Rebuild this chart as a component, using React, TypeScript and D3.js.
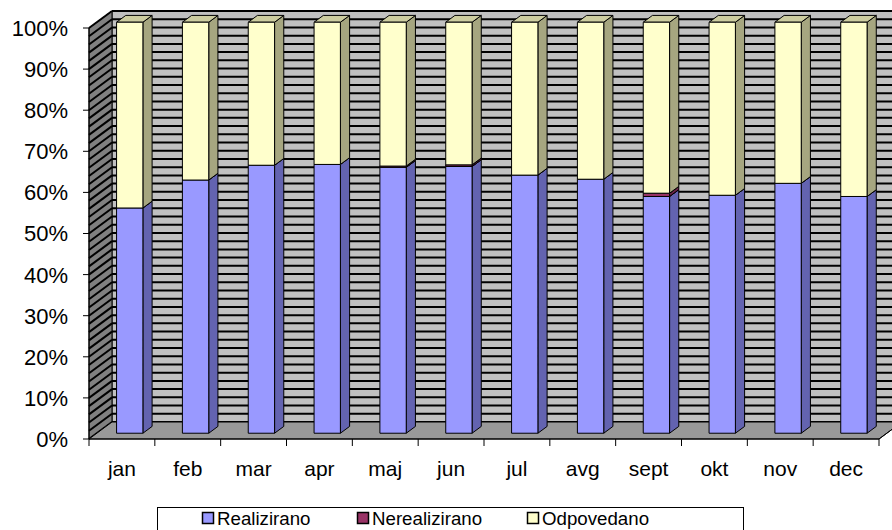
import React from 'react';
import * as d3 from 'd3';

const months = ['jan', 'feb', 'mar', 'apr', 'maj', 'jun', 'jul', 'avg', 'sept', 'okt', 'nov', 'dec'];
const realizirano = [54.8, 61.6, 65.2, 65.4, 64.7, 64.9, 62.8, 61.8, 57.6, 57.9, 60.8, 57.6];
const nerealizirano = [0, 0, 0, 0, 0.3, 0.4, 0, 0, 0.8, 0, 0, 0];
const odpovedano = [45.2, 38.4, 34.8, 34.6, 35.0, 34.7, 37.2, 38.2, 41.6, 42.1, 39.2, 42.4];
const seriesNames = ['Realizirano', 'Nerealizirano', 'Odpovedano'];
const yTicks = [0, 10, 20, 30, 40, 50, 60, 70, 80, 90, 100];

const colors = [
  { front: '#9999FF', side: '#6363B0', top: '#8080D6' },
  { front: '#993366', side: '#6B2447', top: '#7F2A55' },
  { front: '#FFFFCC', side: '#A6A680', top: '#CDCDA0' },
];

const W = 892, H = 530;
const X0 = 89, X1 = 879, YB = 439, YT = 28;
const DX = 23, DY = -17;
const F1 = 0.34, F2 = 0.74;
const FONT = 'Liberation Sans, Arial, sans-serif';

export default function App() {
  const table = months.map((m, i) => ({ m, Realizirano: realizirano[i], Nerealizirano: nerealizirano[i], Odpovedano: odpovedano[i] }));
  const stack = d3.stack<any>().keys(seriesNames).offset(d3.stackOffsetExpand);
  const stacked = stack(table);

  const x = d3.scaleBand<string>().domain(months).range([X0, X1]).paddingInner(0.6).paddingOuter(0.3);
  const y = d3.scaleLinear().domain([0, 1]).range([YB, YT]);
  const step = x.step();

  const off = (f: number) => [DX * f, DY * f];
  const [fx1, fy1] = off(F1);
  const [fx2, fy2] = off(F2);
  const [bx, by] = off(1);

  const pts = (arr: number[][]) => arr.map(p => p.join(',')).join(' ');

  // wall stripes every 2%
  const stripes = d3.range(0, 101, 2).map(v => v / 100);

  const bars: React.ReactNode[] = [];
  months.forEach((m, i) => {
    const xl = (x(m) as number) + fx1;
    const xr = xl + x.bandwidth();
    stacked.forEach((s, si) => {
      const [v0, v1] = s[i];
      if (v1 - v0 <= 0) return;
      const yb = y(v0) + fy1;
      const yt = y(v1) + fy1;
      const dxs = fx2 - fx1, dys = fy2 - fy1;
      const c = colors[si];
      bars.push(
        <g key={`${m}-${si}`} stroke="#000" strokeWidth={1} strokeLinejoin="round">
          <polygon points={pts([[xr, yb], [xr + dxs, yb + dys], [xr + dxs, yt + dys], [xr, yt]])} fill={c.side} />
          <polygon points={pts([[xl, yt], [xl + dxs, yt + dys], [xr + dxs, yt + dys], [xr, yt]])} fill={c.top} />
          <rect x={xl} y={yt} width={xr - xl} height={yb - yt} fill={c.front} />
        </g>
      );
    });
  });

  return (
    <svg width={W} height={H} style={{ position: 'absolute', left: 0, top: 0 }} fontFamily={FONT}>
      <rect x={0} y={0} width={W} height={H} fill="#fff" />
      {/* back wall */}
      <polygon points={pts([[X0 + bx, YB + by], [X0 + bx, YT + by], [X1 + bx, YT + by], [X1 + bx, YB + by]])} fill="#C0C0C0" stroke="#000" strokeWidth={1} />
      {stripes.map((v, k) => (
        <line key={`bs${k}`} x1={X0 + bx} x2={X1 + bx} y1={y(v) + by} y2={y(v) + by} stroke="#000" strokeWidth={2} />
      ))}
      {/* left side wall */}
      <polygon points={pts([[X0, YB], [X0, YT], [X0 + bx, YT + by], [X0 + bx, YB + by]])} fill="#808080" stroke="#000" strokeWidth={1} />
      {stripes.map((v, k) => (
        <line key={`ss${k}`} x1={X0} x2={X0 + bx} y1={y(v)} y2={y(v) + by} stroke="#000" strokeWidth={2} />
      ))}
      {/* floor */}
      <polygon points={pts([[X0, YB], [X1, YB], [X1 + bx, YB + by], [X0 + bx, YB + by]])} fill="#999999" stroke="#000" strokeWidth={1} />
      {bars}
      {/* axes */}
      <line x1={X0} x2={X0} y1={YT} y2={YB} stroke="#000" strokeWidth={1} />
      <line x1={X0} x2={X1} y1={YB} y2={YB} stroke="#000" strokeWidth={1} />
      <line x1={X1} x2={X1 + bx} y1={YB} y2={YB + by} stroke="#000" strokeWidth={1} />
      {yTicks.map(t => (
        <g key={`yt${t}`}>
          <line x1={X0 - 6} x2={X0} y1={y(t / 100)} y2={y(t / 100)} stroke="#000" />
          <text x={68} y={y(t / 100)} dy="0.36em" textAnchor="end" fontSize={22} fill="#000">{t}%</text>
        </g>
      ))}
      {d3.range(months.length + 1).map(k => {
        const xx = X0 + k * step;
        return <line key={`xt${k}`} x1={xx} x2={xx} y1={YB} y2={YB + 7} stroke="#000" />;
      })}
      {months.map(m => (
        <text key={`xl${m}`} x={(x(m) as number) + x.bandwidth() / 2} y={476} textAnchor="middle" fontSize={21} fill="#000">{m}</text>
      ))}
      {/* legend */}
      <rect x={157.5} y={507.5} width={586} height={30} fill="#fff" stroke="#000" strokeWidth={1} />
      {seriesNames.map((s, k) => {
        const lx = [202, 357, 527][k];
        return (
          <g key={`lg${s}`}>
            <rect x={lx + 0.5} y={512.5} width={11} height={11} fill={colors[k].front} stroke="#000" strokeWidth={1.5} />
            <text x={lx + 15} y={525} fontSize={18.7} fill="#000">{s}</text>
          </g>
        );
      })}
    </svg>
  );
}
